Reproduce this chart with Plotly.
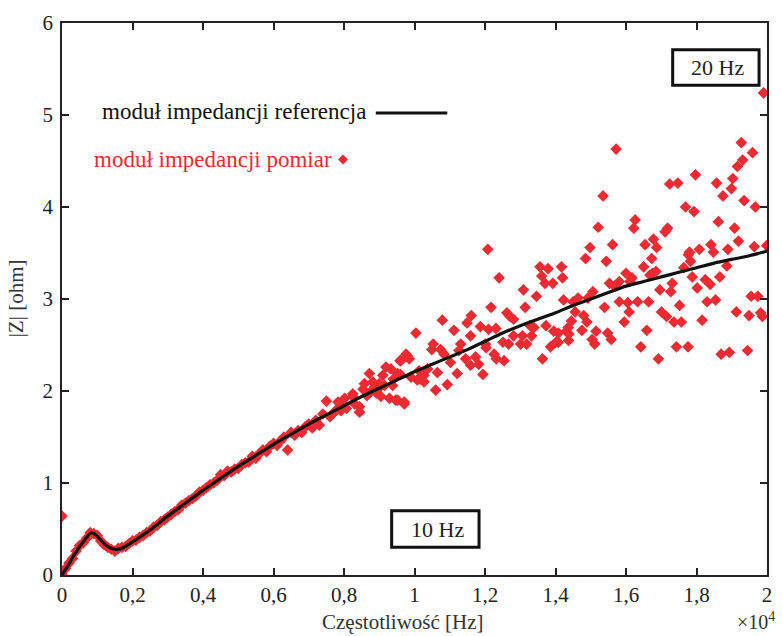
import plotly.graph_objects as go

# ---------------- data (frequency in units of 10^4 Hz, |Z| in ohm) ----------------
ref_x = [0.00, 0.01, 0.02, 0.03, 0.04, 0.05, 0.06, 0.07, 0.08, 0.09, 0.10, 0.11, 0.12,
         0.13, 0.14, 0.15, 0.16, 0.17, 0.18, 0.19, 0.20, 0.25, 0.30, 0.35, 0.40, 0.45,
         0.50, 0.55, 0.60, 0.65, 0.70, 0.75, 0.80, 0.85, 0.90, 0.95, 1.00, 1.05, 1.10,
         1.15, 1.20, 1.25, 1.30, 1.35, 1.40, 1.45, 1.50, 1.55, 1.60, 1.65, 1.70, 1.75,
         1.80, 1.85, 1.90, 1.95, 2.00]
ref_z = [0.00, 0.06, 0.12, 0.19, 0.25, 0.31, 0.36, 0.41, 0.455, 0.455, 0.42, 0.38, 0.34,
         0.31, 0.29, 0.28, 0.28, 0.29, 0.31, 0.335, 0.36, 0.49, 0.64, 0.78, 0.92, 1.05,
         1.18, 1.30, 1.42, 1.53, 1.64, 1.74, 1.84, 1.94, 2.03, 2.12, 2.21, 2.29, 2.37,
         2.45, 2.54, 2.63, 2.71, 2.78, 2.85, 2.93, 3.00, 3.07, 3.14, 3.19, 3.24, 3.29,
         3.34, 3.39, 3.43, 3.47, 3.52]

meas_x = [
    0.00, 0.01, 0.02, 0.03, 0.04, 0.05, 0.06, 0.07, 0.08, 0.09, 0.10, 0.11, 0.12, 0.13,
    0.14, 0.15, 0.16, 0.17, 0.18, 0.19, 0.20, 0.21, 0.22, 0.23, 0.24, 0.25, 0.26, 0.27,
    0.28, 0.29, 0.30, 0.31, 0.32, 0.33, 0.34, 0.35, 0.36, 0.37, 0.38, 0.39, 0.40, 0.41,
    0.42, 0.43, 0.44, 0.45, 0.46, 0.47, 0.48, 0.49, 0.50, 0.51, 0.52, 0.53, 0.54, 0.55,
    0.56, 0.57, 0.58, 0.59, 0.60, 0.61, 0.62, 0.63, 0.64, 0.65, 0.66, 0.67, 0.68, 0.69,
    0.70, 0.71, 0.72, 0.73, 0.74, 0.75, 0.76, 0.77, 0.78, 0.79, 0.80,
    0.00,
    0.783, 0.792, 0.802, 0.807, 0.825, 0.830, 0.844, 0.825, 0.844, 0.854, 0.858, 0.865,
    0.872, 0.875, 0.882, 0.888, 0.892, 0.896, 0.900, 0.905, 0.910, 0.915, 0.919, 0.929,
    0.933, 0.938, 0.940, 0.947, 0.952, 0.952, 0.959, 0.960, 0.961, 0.971, 0.971, 0.976,
    0.980, 0.985, 0.990, 1.004, 1.008, 1.013, 1.016, 1.027, 1.027, 1.037, 1.049, 1.053,
    1.060, 1.065, 1.074, 1.079, 1.084, 1.093,
    1.102, 1.112, 1.121, 1.126, 1.131, 1.145, 1.149, 1.159, 1.159, 1.161, 1.173, 1.182,
    1.187, 1.194, 1.201, 1.203, 1.208, 1.210, 1.217, 1.226, 1.231, 1.232, 1.240, 1.251,
    1.254, 1.262, 1.267, 1.271, 1.281, 1.281, 1.301, 1.306, 1.309, 1.314, 1.318, 1.328,
    1.332, 1.339, 1.346, 1.356, 1.361, 1.363, 1.370, 1.373, 1.379, 1.386, 1.392, 1.395,
    1.401,
    1.408, 1.408, 1.417, 1.420, 1.423, 1.431, 1.436, 1.437, 1.438, 1.445, 1.450, 1.456,
    1.464, 1.475, 1.480, 1.485, 1.489, 1.492, 1.498, 1.504, 1.506, 1.511, 1.515, 1.521,
    1.535, 1.539, 1.544, 1.548, 1.553, 1.558, 1.562, 1.567, 1.572, 1.581, 1.581, 1.595,
    1.600, 1.605, 1.609, 1.611, 1.617, 1.622, 1.626, 1.633, 1.642, 1.650, 1.654, 1.659,
    1.664, 1.668, 1.673, 1.675, 1.678, 1.685, 1.687, 1.692, 1.696, 1.701, 1.711, 1.715,
    1.718, 1.724, 1.727, 1.731, 1.736, 1.743, 1.747, 1.752, 1.757, 1.764, 1.769, 1.776,
    1.777, 1.780, 1.783, 1.788, 1.793, 1.797, 1.802, 1.808, 1.816, 1.825, 1.830, 1.839,
    1.841, 1.848, 1.854, 1.857, 1.862, 1.866, 1.870, 1.875, 1.886, 1.889, 1.893, 1.899,
    1.903, 1.908, 1.913, 1.916, 1.919, 1.927, 1.931, 1.935, 1.945, 1.949, 1.955, 1.959,
    1.964, 1.967, 1.974, 1.982, 1.987, 1.990, 1.999,
]
meas_z = [
    0.01, 0.07, 0.13, 0.18, 0.26, 0.32, 0.35, 0.40, 0.46, 0.45, 0.43, 0.37, 0.33, 0.30,
    0.28, 0.26, 0.29, 0.30, 0.31, 0.34, 0.37, 0.38, 0.41, 0.43, 0.46, 0.48, 0.52, 0.54,
    0.58, 0.60, 0.63, 0.66, 0.69, 0.71, 0.76, 0.78, 0.81, 0.83, 0.86, 0.90, 0.92, 0.95,
    0.98, 1.00, 1.03, 1.09, 1.08, 1.13, 1.12, 1.15, 1.16, 1.20, 1.22, 1.23, 1.29, 1.27,
    1.32, 1.36, 1.34, 1.40, 1.43, 1.41, 1.46, 1.50, 1.36, 1.55, 1.52, 1.57, 1.55, 1.61,
    1.64, 1.60, 1.68, 1.63, 1.75, 1.89, 1.72, 1.76, 1.80, 1.79, 1.85,
    0.64,
    1.88, 1.79, 1.92, 1.81, 1.97, 1.86, 1.83, 1.94, 1.77, 2.02, 2.08, 1.95,
    2.19, 1.99, 2.10, 2.05, 1.98, 2.02, 2.08, 1.94, 2.17, 2.06, 2.26, 1.92,
    2.24, 2.06, 2.13, 1.90, 2.19, 1.90, 2.33, 2.18, 2.33, 1.88, 1.86, 2.40,
    2.38, 2.35, 2.15, 2.63, 2.12, 2.22, 2.13, 2.10, 2.17, 2.24, 2.45, 2.51,
    2.01, 2.20, 2.45, 2.77, 2.40, 2.07,
    2.31, 2.66, 2.19, 2.44, 2.51, 2.35, 2.74, 2.60, 2.28, 2.82, 2.37, 2.29,
    2.70, 2.18, 2.51, 2.47, 3.54, 2.67, 2.91, 2.40, 2.68, 2.35, 3.23, 2.53,
    2.33, 2.85, 2.51, 2.81, 2.78, 2.60, 2.51, 2.60, 3.10, 2.91, 2.51, 2.71,
    2.60, 2.69, 3.03, 3.35, 3.25, 2.35, 3.17, 2.71, 3.33, 2.48, 3.17, 2.65,
    2.53,
    2.63, 2.53, 3.35, 3.23, 2.99, 2.65, 2.69, 2.55, 2.62, 2.76, 2.97, 2.86,
    3.01, 2.66, 2.82, 3.44, 2.75, 3.01, 3.56, 2.56, 3.08, 2.51, 2.65, 3.78,
    4.12, 2.91, 3.41, 2.63, 3.17, 2.56, 3.59, 3.14, 4.63, 3.19, 2.97, 2.75,
    3.28, 2.96, 2.86, 3.19, 3.23, 3.77, 3.86, 2.97, 2.48, 3.35, 3.59, 2.66,
    2.97, 3.26, 3.44, 3.28, 3.65, 3.30, 3.56, 2.35, 3.10, 2.86, 3.73, 2.81,
    3.77, 4.25, 3.08, 3.17, 2.75, 2.48, 4.26, 2.93, 2.75, 3.34, 4.00, 2.48,
    3.48, 3.51, 3.41, 3.24, 3.95, 4.35, 3.12, 3.54, 2.77, 3.21, 2.97, 3.16,
    3.59, 3.51, 2.99, 4.26, 3.84, 3.24, 2.40, 4.12, 3.36, 3.54, 2.42, 4.20,
    4.31, 3.77, 2.86, 4.44, 3.63, 4.70, 4.51, 4.07, 2.44, 2.82, 3.03, 4.59,
    3.57, 4.00, 3.03, 2.85, 2.81, 5.24, 3.58,
]

x_tickvals = [0, 0.2, 0.4, 0.6, 0.8, 1.0, 1.2, 1.4, 1.6, 1.8, 2.0]
x_ticktext = ["0", "0,2", "0,4", "0,6", "0,8", "1", "1,2", "1,4", "1,6", "1,8", "2"]
y_tickvals = [0, 1, 2, 3, 4, 5, 6]

ref_label = "moduł impedancji referencja"
meas_label = "moduł impedancji pomiar"
x_title = "Częstotliwość [Hz]"
y_title = "|Z| [ohm]"
box_labels = ["20 Hz", "10 Hz"]

# ---------------- styling ----------------
FONT = "Liberation Serif, Times New Roman, serif"
RED = "#ec2a32"
BLACK = "#111111"
TXT = "#222222"

# plot area in pixels: left 62, right 772, top 17, bottom 575
L, R, T, B = 62, 772, 17, 575
W, H = R - L, B - T


def px(xp):
    return (xp - L) / W


def py(yp):
    return (B - yp) / H


fig = go.Figure()
fig.add_trace(go.Scatter(
    x=meas_x, y=meas_z, mode="markers", name=meas_label,
    marker=dict(symbol="diamond", size=9, color=RED, line=dict(width=0)),
    showlegend=False, hoverinfo="x+y"))
fig.add_trace(go.Scatter(
    x=ref_x, y=ref_z, mode="lines", name=ref_label,
    line=dict(color=BLACK, width=3.2, shape="spline", smoothing=0.6),
    showlegend=False))

axis_common = dict(
    showline=True, linecolor="#222222", linewidth=1.6, mirror="allticks",
    ticks="inside", ticklen=7, tickwidth=1.6, tickcolor="#222222",
    showgrid=False, zeroline=False,
    tickfont=dict(family=FONT, size=21, color=TXT),
)

fig.update_layout(
    width=783, height=636,
    margin=dict(l=L, r=783 - R, t=T, b=636 - B),
    paper_bgcolor="white", plot_bgcolor="white",
    font=dict(family=FONT, color=TXT),
    xaxis=dict(range=[0, 2], tickvals=x_tickvals, ticktext=x_ticktext, **axis_common),
    yaxis=dict(range=[0, 6], tickvals=y_tickvals, ticklabelstandoff=3, **axis_common),
)

# axis titles
fig.add_annotation(xref="paper", yref="paper", x=px(405), y=py(623), xanchor="center",
                   yanchor="middle", showarrow=False, text=x_title,
                   font=dict(family=FONT, size=21, color="#333333"))
fig.add_annotation(xref="paper", yref="paper", x=px(16), y=py(295), xanchor="center",
                   yanchor="middle", showarrow=False, text=y_title, textangle=-90,
                   font=dict(family=FONT, size=21, color="#333333"))
# x10^4 multiplier
fig.add_annotation(xref="paper", yref="paper", x=px(782), y=py(621), xanchor="right",
                   yanchor="middle", showarrow=False,
                   text="×10<sup>4</sup>", font=dict(family=FONT, size=20, color="#333333"))

# legend-like texts
fig.add_annotation(xref="paper", yref="paper", x=px(370), y=py(106),
                   xanchor="right", yanchor="middle", showarrow=False, text=ref_label,
                   font=dict(family=FONT, size=23, color=BLACK))
fig.add_annotation(xref="paper", yref="paper", x=px(336), y=py(155),
                   xanchor="right", yanchor="middle", showarrow=False, text=meas_label,
                   font=dict(family=FONT, size=23, color=RED))
fig.add_shape(type="line", xref="paper", yref="paper",
              x0=px(378), x1=px(450), y0=py(108), y1=py(108),
              line=dict(color=BLACK, width=3.2))
fig.add_shape(type="path", xref="paper", yref="paper", xsizemode="pixel", ysizemode="pixel",
              xanchor=px(345), yanchor=py(155),
              path="M0,5 L5,0 L0,-5 L-5,0 Z", fillcolor=RED, line=dict(width=0))

# boxed labels
boxes = [((677, 764, 44, 80), box_labels[0]), ((394, 482, 510, 547), box_labels[1])]
for (bx0, bx1, by0, by1), label in boxes:
    fig.add_shape(type="rect", xref="paper", yref="paper",
                  x0=px(bx0), x1=px(bx1), y0=py(by1), y1=py(by0),
                  line=dict(color="#111111", width=3), fillcolor="white", layer="above")
    fig.add_annotation(xref="paper", yref="paper",
                       x=px((bx0 + bx1) / 2 + 2), y=py((by0 + by1) / 2),
                       xanchor="center", yanchor="middle", showarrow=False, text=label,
                       font=dict(family=FONT, size=22, color=TXT))

fig.write_html("out.html")
